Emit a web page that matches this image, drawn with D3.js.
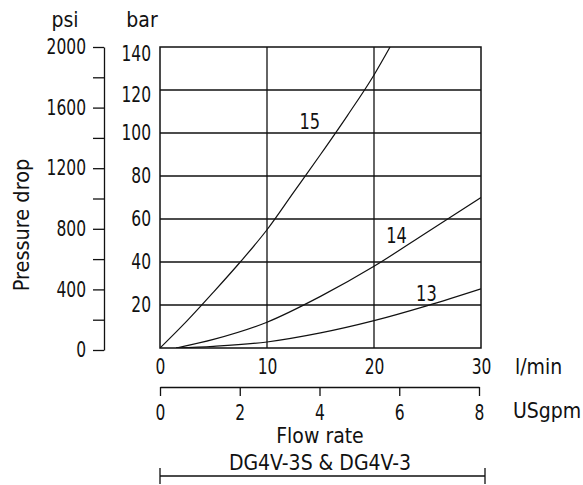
<!DOCTYPE html>
<html>
<head>
<meta charset="utf-8">
<script src="https://cdn.jsdelivr.net/npm/d3@7"></script>
<style>
    body { margin: 0; background: #fff; }
    svg text {
        font-family: 'Liberation Sans Narrow', 'DejaVu Sans Condensed', 'Arial Narrow', sans-serif;
        font-size: 21px;
        fill: #111;
    }
</style>
</head>
<body>
<div id="chart"></div>
<script>
/*global d3*/
(function () {
    'use strict';

    // values
    var flowTicks = [0, 10, 20, 30],
        gpmTicks = [0, 2, 4, 6, 8],
        barTicks = [20, 40, 60, 80, 100, 120, 140],
        psiTicks = [0, 200, 400, 600, 800, 1000, 1200, 1400, 1600, 1800, 2000],
        psiLabelled = [0, 400, 800, 1200, 1600, 2000],

        // l/min, bar
        curve15 = [[0, 0], [2.5, 12.5], [5, 26], [7.5, 40], [10, 55], [12.5, 72.5],
            [15, 90], [17.5, 108], [20, 127], [21.5, 140]],
        curve14 = [[1.5, 0], [5, 4], [10, 12], [15, 24], [20, 38], [25, 54], [30, 70]],
        curve13 = [[1.5, 0], [5, 0.8], [10, 2.8], [15, 7], [20, 12.7], [25, 19.7], [30, 27.5]],
        curveNames = ['15', '14', '13'],
        labelAt = [[14, 105.5], [22.1, 52.5], [24.9, 25.5]],

        width = 583,
        height = 485,

        svg = d3.select('#chart')
            .append('svg')
            .attr('width', width)
            .attr('height', height),

        x = d3.scaleLinear().domain([0, 30]).range([160, 481]),
        y = d3.scaleLinear().domain([0, 140]).range([348, 47]),
        psi = d3.scaleLinear().domain([0, 2000]).range([350, 47]),
        gpm = d3.scaleLinear().domain([0, 8]).range([160, 479]),

        line = d3.line()
            .x(function (d) { return x(d[0]); })
            .y(function (d) { return y(d[1]); })
            .curve(d3.curveMonotoneX),

        ink = '#111',
        narrow = 0.82;

    function styleAxis(g) {
        g.selectAll('path, line').style('stroke', ink).style('stroke-width', '1.3px');
        g.selectAll('text').attr('fill', null);
    }

    // the numbers in the original are set in a condensed face, squeeze them round their anchor
    function condense(sel) {
        sel.each(function () {
            var t = d3.select(this),
                ax = +t.attr('x') || 0,
                tr = t.attr('transform') || '';
            t.attr('transform', tr + ' translate(' + ax + ',0) scale(' + narrow + ',1) translate(' + (-ax) + ',0)');
        });
    }

    svg.append('defs').append('clipPath')
        .attr('id', 'plotClip')
        .append('rect')
        .attr('x', x(0))
        .attr('y', y(140))
        .attr('width', x(30) - x(0))
        .attr('height', y(0) - y(140));

    // grid
    svg.append('g')
        .selectAll('line')
        .data(barTicks.slice(0, -1))
        .enter()
        .append('line')
        .attr('x1', x(0))
        .attr('x2', x(30))
        .attr('y1', function (d) { return y(d); })
        .attr('y2', function (d) { return y(d); })
        .style('stroke', ink)
        .style('stroke-width', '1.3px');

    svg.append('g')
        .selectAll('line')
        .data(flowTicks.slice(1, -1))
        .enter()
        .append('line')
        .attr('x1', function (d) { return x(d); })
        .attr('x2', function (d) { return x(d); })
        .attr('y1', y(0))
        .attr('y2', y(140))
        .style('stroke', ink)
        .style('stroke-width', '1.3px');

    svg.append('rect')
        .attr('x', x(0))
        .attr('y', y(140))
        .attr('width', x(30) - x(0))
        .attr('height', y(0) - y(140))
        .style('fill', 'none')
        .style('stroke', ink)
        .style('stroke-width', '1.5px');

    // curves
    svg.append('g')
        .attr('clip-path', 'url(#plotClip)')
        .selectAll('path')
        .data([curve15, curve14, curve13])
        .enter()
        .append('path')
        .attr('d', line)
        .style('fill', 'none')
        .style('stroke', ink)
        .style('stroke-width', '1.2px');

    svg.append('g')
        .attr('class', 'curve-labels')
        .selectAll('text')
        .data(curveNames)
        .enter()
        .append('text')
        .attr('x', function (d, i) { return x(labelAt[i][0]); })
        .attr('y', function (d, i) { return y(labelAt[i][1]); })
        .attr('dy', '0.36em')
        .attr('text-anchor', 'middle')
        .style('font-size', '22px')
        .text(function (d) { return d; });

    // bar axis
    svg.append('g')
        .attr('transform', 'translate(' + x(0) + ',0)')
        .call(d3.axisLeft(y).tickValues(barTicks).tickSize(0).tickPadding(9))
        .call(function (g) { g.select('.domain').remove(); })
        .call(styleAxis)
        .selectAll('text')
        .attr('dy', function (d) { return d === 140 ? '0.65em' : (d === 120 ? '0.55em' : '0.32em'); });

    // psi axis
    svg.append('g')
        .attr('transform', 'translate(104,0)')
        .call(d3.axisLeft(psi)
            .tickValues(psiTicks)
            .tickSize(11)
            .tickSizeOuter(0)
            .tickPadding(7)
            .tickFormat(function (d) { return psiLabelled.indexOf(d) >= 0 ? d : ''; }))
        .call(styleAxis);

    // l/min axis
    svg.append('g')
        .attr('transform', 'translate(0,' + y(0) + ')')
        .call(d3.axisBottom(x).tickValues(flowTicks).tickSize(0).tickPadding(11))
        .call(function (g) { g.select('.domain').remove(); })
        .call(styleAxis);

    // USgpm axis
    svg.append('g')
        .attr('transform', 'translate(0,387)')
        .call(d3.axisBottom(gpm).tickValues(gpmTicks).tickSize(9).tickSizeOuter(0).tickPadding(9))
        .call(styleAxis);

    svg.selectAll('.tick text').style('font-size', '21px');
    condense(svg.selectAll('.tick text'));
    condense(svg.selectAll('.curve-labels text'));

    // units and titles
    svg.append('text').attr('x', 65).attr('y', 27).attr('text-anchor', 'middle').text('psi');
    svg.append('text').attr('x', 142).attr('y', 27).attr('text-anchor', 'middle').text('bar');
    svg.append('text').attr('x', 515).attr('y', 374).text('l/min');
    svg.append('text').attr('x', 513).attr('y', 418).text('USgpm');
    svg.append('text').attr('x', 320).attr('y', 443).attr('text-anchor', 'middle').text('Flow rate');
    svg.append('text').attr('x', 320).attr('y', 470).attr('text-anchor', 'middle').text('DG4V-3S & DG4V-3');
    svg.append('text')
        .attr('transform', 'translate(29,225) rotate(-90)')
        .attr('text-anchor', 'middle')
        .style('font-size', '21.5px')
        .text('Pressure drop');

    // model bracket
    svg.append('path')
        .attr('d', 'M' + x(0) + ',468V484M' + x(0) + ',476H485M485,468V484')
        .style('fill', 'none')
        .style('stroke', ink)
        .style('stroke-width', '1.3px');

}());
</script>
</body>
</html>
